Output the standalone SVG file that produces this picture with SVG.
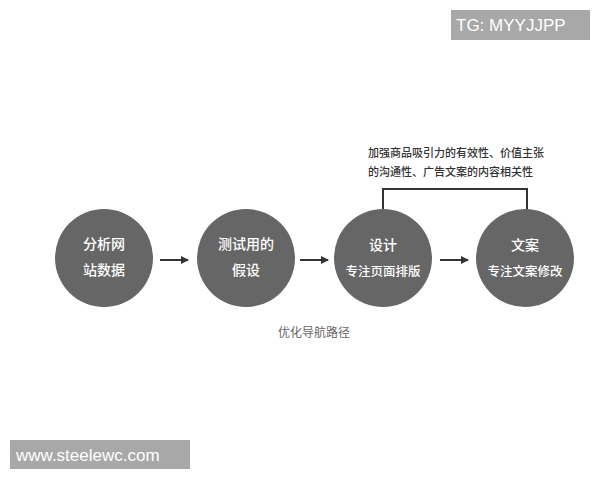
<svg xmlns="http://www.w3.org/2000/svg" width="600" height="480" viewBox="0 0 600 480">
<style>
.c{fill:#666666}
.t{font-family:"Noto Sans CJK SC","Noto Sans",sans-serif;fill:#ffffff;text-anchor:middle;font-weight:500}
.l{font-family:"Noto Sans CJK SC","Noto Sans",sans-serif;fill:#333333;font-weight:500}
.w{font-family:"Liberation Sans",Arial,sans-serif;fill:#ffffff;font-size:17px}
.ln{stroke:#333333;stroke-width:2;fill:none}
</style>
<defs>
<marker id="ah" markerWidth="8" markerHeight="8" refX="7" refY="4" orient="auto" markerUnits="userSpaceOnUse">
<path d="M0,0 L8,4 L0,8 Z" fill="#333333"/>
</marker>
</defs>
<rect width="600" height="480" fill="#ffffff"/>
<g id="watermark-tg">
<rect x="451" y="10" width="139" height="30" fill="#a8a8a8"/>
<text class="w" x="456" y="31">TG: MYYJJPP</text>
</g>
<g id="watermark-www">
<rect x="10" y="440" width="180" height="29" fill="#a8a8a8"/>
<text class="w" x="16" y="461">www.steelewc.com</text>
</g>
<g id="connectors">
<line class="ln" x1="160" y1="260" x2="188" y2="260" marker-end="url(#ah)"/>
<line class="ln" x1="300" y1="260" x2="328" y2="260" marker-end="url(#ah)"/>
<line class="ln" x1="440" y1="260" x2="468" y2="260" marker-end="url(#ah)"/>
<polyline class="ln" points="383,211 383,189 527,189 527,211"/>
</g>
<g id="note">
<text class="l" x="368" y="157" font-size="11">加强商品吸引力的有效性、价值主张</text>
<text class="l" x="368" y="176" font-size="11">的沟通性、广告文案的内容相关性</text>
</g>
<g id="node1">
<circle class="c" cx="104" cy="258" r="49"/>
<text class="t" x="104" y="249" font-size="14">分析网</text>
<text class="t" x="104" y="275" font-size="14">站数据</text>
</g>
<g id="node2">
<circle class="c" cx="246" cy="258" r="49"/>
<text class="t" x="246" y="249" font-size="14">测试用的</text>
<text class="t" x="246" y="275" font-size="14">假设</text>
</g>
<g id="node3">
<circle class="c" cx="383" cy="258" r="49"/>
<text class="t" x="383" y="250" font-size="14">设计</text>
<text class="t" x="383" y="276" font-size="12.5">专注页面排版</text>
</g>
<g id="node4">
<circle class="c" cx="525" cy="258" r="49"/>
<text class="t" x="525" y="250" font-size="14">文案</text>
<text class="t" x="525" y="276" font-size="12.5">专注文案修改</text>
</g>
<g id="label">
<text x="314" y="337" font-size="12" text-anchor="middle" style="font-family:'Noto Sans CJK SC','Noto Sans',sans-serif;fill:#666666">优化导航路径</text>
</g>
</svg>
